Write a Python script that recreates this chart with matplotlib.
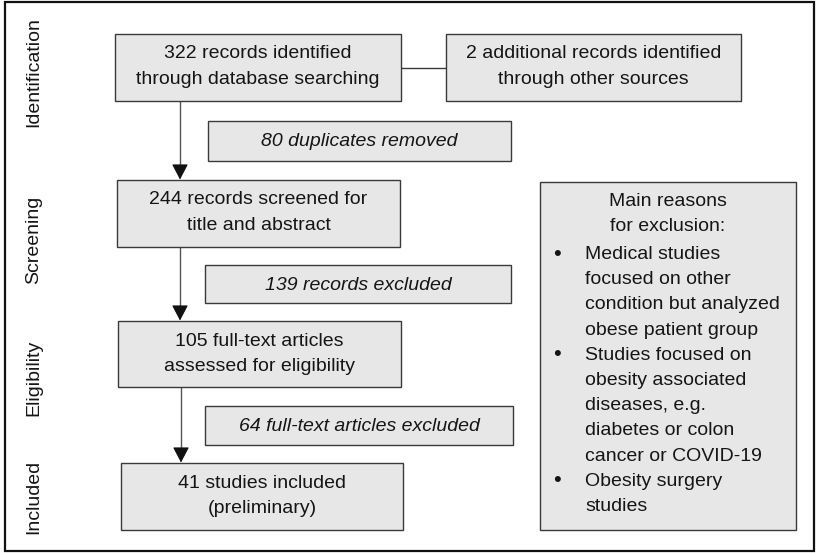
import matplotlib
matplotlib.use("Agg")
import matplotlib.pyplot as plt
from matplotlib.patches import Rectangle

plt.rcParams['font.family'] = ['Liberation Sans', 'DejaVu Sans']

# ---- data ----
stage_labels = ["Identification", "Screening", "Eligibility", "Included"]
main_texts = [
    ["322 records identified", "through database searching"],
    ["244 records screened for", "title and abstract"],
    ["105 full-text articles", "assessed for eligibility"],
    ["41 studies included", "(preliminary)"],
]
side_text = ["2 additional records identified", "through other sources"]
excluded_texts = [
    "80 duplicates removed",
    "139 records excluded",
    "64 full-text articles excluded",
]
reasons_title = ["Main reasons", "for exclusion:"]
reasons = [
    ["Medical studies", "focused on other", "condition but analyzed", "obese patient group"],
    ["Studies focused on", "obesity associated", "diseases, e.g.", "diabetes or colon",
     "cancer or COVID-19"],
    ["Obesity surgery", "studies"],
]

# ---- layout (pixels) ----
W, H = 816, 553
fig = plt.figure(figsize=(W / 100, H / 100), dpi=100)
ax = fig.add_axes([0, 0, 1, 1])
ax.set_xlim(0, W)
ax.set_ylim(H, 0)
ax.axis('off')

FILL = '#e7e7e7'
EDGE = '#3a3a3a'
TXT = '#151515'
FS = 14
LINE = 25.2


def rect(x0, y0, x1, y1):
    ax.add_patch(Rectangle((x0, y0), x1 - x0, y1 - y0, facecolor=FILL,
                           edgecolor=EDGE, linewidth=1.0, zorder=2))


def lines_at(x, first_baseline, lines, ha='center', italic=False):
    for i, s in enumerate(lines):
        ax.text(x, first_baseline + i * LINE, s, ha=ha, va='baseline',
                fontsize=FS, style='italic' if italic else 'normal',
                color=TXT, zorder=3)


# outer frame
ax.add_patch(Rectangle((5, 1.5), 809, 549.5, facecolor='none', edgecolor='#111111',
                       linewidth=1.6, zorder=1))

# stage labels
stage_y = [72, 240, 378, 497]
for lab, y in zip(stage_labels, stage_y):
    ax.text(34, y, lab, rotation=90, ha='center', va='center', fontsize=FS,
            color=TXT)

# main boxes
main_boxes = [(115, 34, 401, 101), (117, 180, 400, 247),
              (118, 321, 401, 387), (121, 463, 403, 530)]
for (x0, y0, x1, y1), t in zip(main_boxes, main_texts):
    rect(x0, y0, x1, y1)
    lines_at((x0 + x1) / 2, y0 + 24.5, t)

# side box + connector
rect(446, 34, 741, 101)
lines_at((446 + 741) / 2, 34 + 24.5, side_text)
ax.plot([401, 446], [68, 68], color=EDGE, linewidth=1.0, zorder=1)

# excluded boxes
excl_boxes = [(208, 121, 511, 161), (205, 265, 511, 303), (205, 406, 513, 445)]
for (x0, y0, x1, y1), t in zip(excl_boxes, excluded_texts):
    rect(x0, y0, x1, y1)
    lines_at((x0 + x1) / 2, (y0 + y1) / 2 + 5.5, [t], italic=True)

# arrows
arrow_x = [180, 180, 181]
for i in range(3):
    y_start = main_boxes[i][3]
    y_end = main_boxes[i + 1][1]
    ax.plot([arrow_x[i], arrow_x[i]], [y_start, y_end - 9], color='#555555',
            linewidth=1.0, zorder=1)
    ax.annotate('', xy=(arrow_x[i], y_end - 0.5), xytext=(arrow_x[i], y_end - 12),
                arrowprops=dict(arrowstyle='-|>,head_length=0.8,head_width=0.42',
                                color='#111111', lw=0.8,
                                mutation_scale=12, shrinkA=0, shrinkB=0),
                zorder=1)

# reasons box
rect(540, 182, 796, 530)
lines_at(668, 206, reasons_title)
b = 259
for r in reasons:
    ax.text(557, b - 5, '\u2022', ha='center', va='center', fontsize=FS + 2,
            color=TXT, zorder=3)
    lines_at(585, b, r, ha='left')
    b += len(r) * LINE

fig.savefig('out.png', dpi=100)
